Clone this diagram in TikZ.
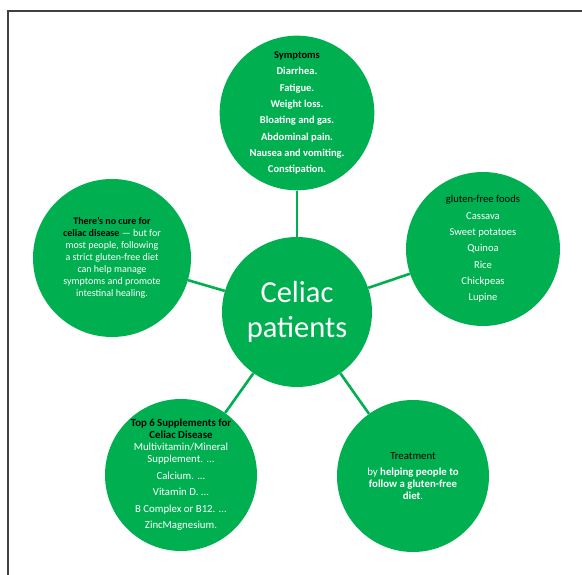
\documentclass[tikz,border=0pt]{standalone}
\usepackage{fontspec}
\setmainfont{Carlito}
\definecolor{cgreen}{HTML}{00B050}
\begin{document}
\begin{tikzpicture}[x=1pt,y=1pt,
  bubble/.style={circle, fill=cgreen, draw=none, inner sep=0pt, text=white, align=center, font=\fontsize{10}{12}\selectfont},
  conn/.style={draw=cgreen, line width=2.6pt},
  frameline/.style={draw=black!75, line width=2pt}]
\useasboundingbox (0,0) rectangle (582,575);
\fill[white] (0,0) rectangle (582,575);
\draw[frameline] (8,0) -- (8,564) -- (582,564);
% nodes
\node[bubble, minimum size=154pt, font=\bfseries\fontsize{10.5}{12}\selectfont] (sym) at (297,462) {%
  \textcolor{black}{Symptoms}\\[4.3pt] Diarrhea.\\[4.3pt] Fatigue.\\[4.3pt] Weight loss.\\[4.3pt]
  Bloating and gas.\\[4.3pt] Abdominal pain.\\[4.3pt] Nausea and vomiting.\\[4.3pt] Constipation.};
\node[bubble, minimum size=150pt, font=\fontsize{30.5}{35}\selectfont] (cen) at (297,263) {Celiac\\patients};
\node[bubble, minimum size=158pt] (cure) at (112,317) {\textcolor{black}{\bfseries There's no cure for}\\
  \textcolor{black}{\bfseries celiac disease} --- but for\\ most people, following\\ a strict gluten-free diet\\
  can help manage\\ symptoms and promote\\ intestinal healing.};
\node[bubble, minimum size=154pt, font=\fontsize{10.6}{12}\selectfont] (glu) at (483,326) {\textcolor{black}{gluten-free foods}\\[4.3pt] Cassava\\[4.3pt]
  Sweet potatoes\\[4.3pt] Quinoa\\[4.3pt] Rice\\[4.3pt] Chickpeas\\[4.3pt] Lupine};
\node[bubble, minimum size=152pt, font=\fontsize{10.8}{12}\selectfont] (sup) at (181,100) {\textcolor{black}{\bfseries Top 6 Supplements for}\\
  \textcolor{black}{\bfseries Celiac Disease}\\ Multivitamin/Mineral\\ Supplement. ...\\[4.5pt] Calcium. ...\\[4.5pt]
  Vitamin D. ...\\[4.5pt] B Complex or B12. ...\\[4.5pt] ZincMagnesium.};
\node[bubble, minimum size=152pt, font=\fontsize{10.8}{12}\selectfont] (tre) at (413,99) {\textcolor{black}{Treatment}\\[4pt]
  by \textbf{helping people to}\\ \textbf{follow a gluten-free}\\ \textbf{diet}.};
% connectors
\draw[conn] (sym) -- (cen);
\draw[conn] (cure) -- (cen);
\draw[conn] (glu) -- (cen);
\draw[conn] (sup) -- (cen);
\draw[conn] (tre) -- (cen);
\end{tikzpicture}
\end{document}
